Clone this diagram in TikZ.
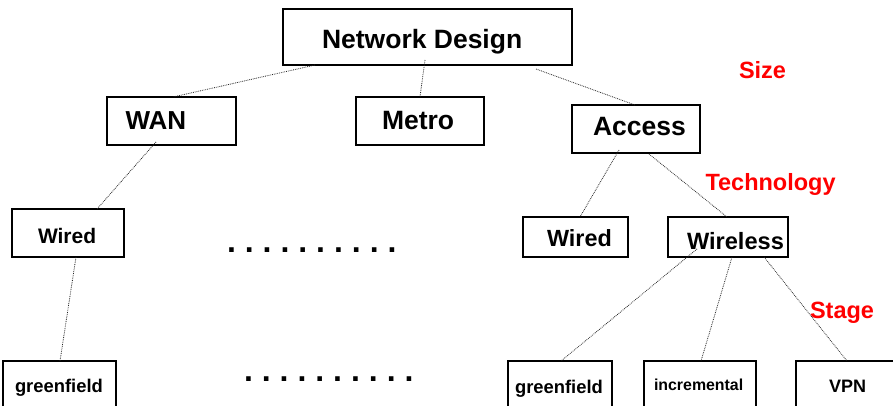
\documentclass[tikz,border=0pt]{standalone}
\usepackage{fontspec}
\setmainfont{Liberation Sans}
\newcommand\fs[1]{\fontsize{#1}{#1}\selectfont}
% a row of ten bold periods with a fixed pitch
\newcommand\dotrow{.\kern8.95pt.\kern8.95pt.\kern8.95pt.\kern8.95pt.\kern8.95pt.\kern8.95pt.\kern8.95pt.\kern8.95pt.\kern8.95pt.}
\tikzset{
  box/.style={draw=black, line width=1.5pt, rectangle, inner sep=0pt, outer sep=0pt},
  link/.style={densely dotted, line width=0.8pt, draw=black!85},
  lbl/.style={anchor=base west, inner sep=0pt, outer sep=0pt, font=\bfseries},
  tag/.style={lbl, text=red},
}
\begin{document}
\begin{tikzpicture}[x=1pt, y=-1pt]
\useasboundingbox (0,0) rectangle (893,406);
\clip (0,0) rectangle (893,406);

% boxes of the hierarchy
\node[box, minimum width=289, minimum height=56] (nd)       at (427.5,37)   {};
\node[box, minimum width=129, minimum height=48] (wan)      at (171.5,121)  {};
\node[box, minimum width=128, minimum height=48] (metro)    at (420,121)    {};
\node[box, minimum width=128, minimum height=48] (access)   at (636,129)    {};
\node[box, minimum width=112, minimum height=48] (wiredL)   at (68,233)     {};
\node[box, minimum width=105, minimum height=40] (wiredR)   at (575.5,237)  {};
\node[box, minimum width=120, minimum height=40] (wireless) at (728,237)    {};
\node[box, minimum width=113, minimum height=59] (greenL)   at (59.5,390.5) {};
\node[box, minimum width=104, minimum height=59] (greenR)   at (560,390.5)  {};
\node[box, minimum width=112, minimum height=59] (incr)     at (700,390.5)  {};
\node[box, minimum width=109, minimum height=59] (vpn)      at (850.5,390.5){};

% box labels
\node[lbl, font=\bfseries\fs{26.5}] at (322,48.3)   {Network Design};
\node[lbl, font=\bfseries\fs{26}]   at (125.5,129.3) {WAN};
\node[lbl, font=\bfseries\fs{26.5}] at (382,129.3)   {Metro};
\node[lbl, font=\bfseries\fs{26.5}] at (593,136)     {Access};
\node[lbl, font=\bfseries\fs{21}]   at (38,243.3)    {Wired};
\node[lbl, font=\bfseries\fs{23.4}] at (547,246)     {Wired};
\node[lbl, font=\bfseries\fs{23.6}] at (687,249.3)   {Wireless};
\node[lbl, font=\bfseries\fs{18.4}] at (15,392.7)    {greenfield};
\node[lbl, font=\bfseries\fs{18.4}] at (515,393.3)   {greenfield};
\node[lbl, font=\bfseries\fs{15.9}] at (654,390.7)   {incremental};
\node[lbl, font=\bfseries\fs{18}]   at (829,392)     {VPN};

% level names
\node[tag, font=\bfseries\fs{23.5}] (size)  at (739,78.3)   {Size};
\node[tag, font=\bfseries\fs{23.5}] (tech)  at (705.5,190)  {Technology};
\node[tag, font=\bfseries\fs{23.5}] (stage) at (810,318.3)  {Stage};

% ellipsis rows
\node[lbl, font=\bfseries\fs{32}] (dots1) at (227,252) {\dotrow};
\node[lbl, font=\bfseries\fs{32}] (dots2) at (244,381) {\dotrow};

% connectors
\draw[link] ([xshift=32]nd.south west)          -- ([xshift=66]wan.north west);
\draw[link] ([shift={(142,-5)}]nd.south west)   -- ([xshift=64]metro.north west);
\draw[link] ([shift={(253,4)}]nd.south west)    -- ([xshift=63]access.north west);
\draw[link] ([shift={(49,-3)}]wan.south west)   -- ([xshift=85]wiredL.north west);
\draw[link] ([xshift=64]wiredL.south west)      -- ([xshift=57]greenL.north west);
\draw[link] ([shift={(47,-3)}]access.south west) -- ([xshift=57]wiredR.north west);
\draw[link] ([shift={(77,1)}]access.south west) -- ([xshift=59]wireless.north west);
\draw[link] ([shift={(29,-8)}]wireless.south west) -- ([xshift=53]greenR.north west);
\draw[link] ([xshift=64]wireless.south west)    -- ([xshift=57]incr.north west);
\draw[link] ([xshift=96]wireless.south west)    -- ([xshift=51]vpn.north west);
\end{tikzpicture}
\end{document}
